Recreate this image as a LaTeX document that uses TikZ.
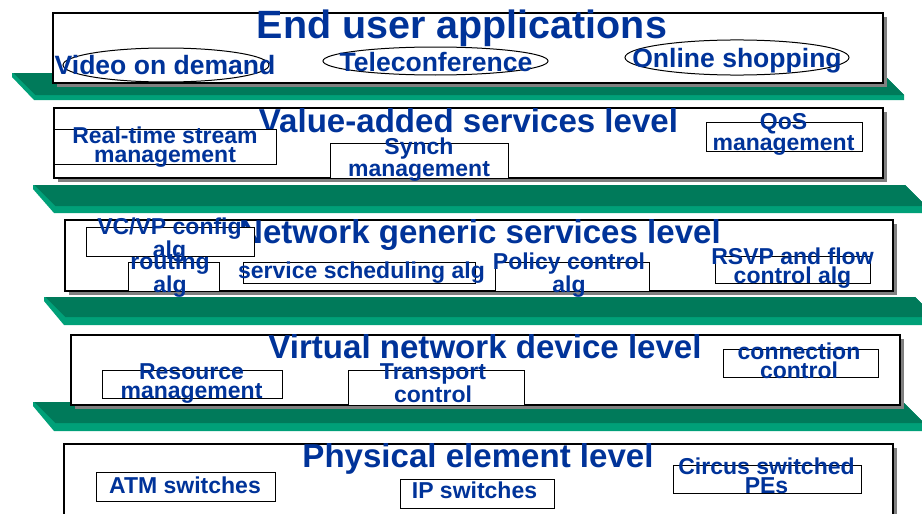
\documentclass[tikz,border=0pt]{standalone}
\usepackage{fontspec}
\setmainfont{Liberation Sans}
\usepackage{xcolor}
\definecolor{slidenavy}{HTML}{003399}
\definecolor{slabdark}{HTML}{007A5A}
\definecolor{slablight}{HTML}{00A078}
\definecolor{shadowgray}{HTML}{808080}
\usetikzlibrary{shapes.geometric, positioning, fit, shadows}
\tikzset{
  levelbox/.style={rectangle, draw=black, line width=0.9pt, fill=white, inner sep=0pt,
                   drop shadow={shadow xshift=3pt, shadow yshift=-3pt, opacity=1, fill=shadowgray}},
  subbox/.style  ={rectangle, draw=black, line width=0.75pt, fill=white, inner sep=0pt},
  appell/.style  ={ellipse, draw=black, line width=0.75pt, inner sep=0pt},
  ltitle/.style  ={text=slidenavy, anchor=base, inner sep=0pt, font=\bfseries\fontsize{24.8}{26}\selectfont},
  applbl/.style  ={text=slidenavy, anchor=base, inner sep=0pt, font=\bfseries\fontsize{19.9}{21}\selectfont},
  sublbl/.style  ={text=slidenavy, anchor=base, inner sep=0pt, align=center, font=\bfseries\fontsize{17.25}{14.25}\selectfont},
}

\begin{document}
\begin{tikzpicture}[x=0.75pt, y=-0.75pt]
  \useasboundingbox (0,0) rectangle (922,514);
  \clip (0,0) rectangle (922,514);

  % green shelves under each level: top y / left x / right x / depth / front strip
  \foreach \ty/\lx/\rx/\dp/\st in {73/12/882/22/5, 185/33/905/21/7, 297/44/915/20/8, 402/33/903/21/8} {
    \fill[slablight] (\lx,\ty) -- (\rx,\ty) -- (\rx+\dp,\ty+\dp) -- (\rx+\dp,\ty+\dp+\st)
                     -- (\lx+\dp,\ty+\dp+\st) -- (\lx,\ty+4) -- cycle;
    \fill[slabdark] (\lx+1.5,\ty) -- (\rx,\ty) -- (\rx+\dp,\ty+\dp) -- (\lx+\dp+1.5,\ty+\dp) -- cycle;
  }

  % level frames
  \node[levelbox, fit={(53,13) (883,83)}] (lvApp) {};
  \node[levelbox, fit={(54,108) (883,178)}] (lvVas) {};
  \node[levelbox, fit={(65,220) (893,291)}] (lvNgs) {};
  \node[levelbox, fit={(71,335) (900,405)}] (lvVnd) {};
  \node[levelbox, fit={(64,444) (893,530)}] (lvPel) {};

  % level titles
  \node[ltitle, font=\bfseries\fontsize{29.6}{31}\selectfont] (tApp) at (462,38) {End user applications};
  \node[ltitle] (tVas) at (468.5,132) {Value-added services level};
  \node[ltitle] (tNgs) at (480,243) {Network generic services level};
  \node[ltitle] (tVnd) at (485,358) {Virtual network device level};
  \node[ltitle] (tPel) at (478,467) {Physical element level};

  % applications
  \node[appell, minimum width=154.5pt, minimum height=25.5pt] (vodE) at (166,65) {};
  \node[appell, minimum width=168.8pt, minimum height=21pt] (tcfE) at (435.5,61) {};
  \node[appell, minimum width=168pt, minimum height=26.3pt] (shpE) at (737,57.5) {};
  \node[applbl] (vod) at (165,74) {Video on demand};
  \node[applbl] (tcf) at (436,71.5) {Teleconference};
  \node[applbl] (shp) at (737,67) {Online shopping};

  % value-added services (two-line labels sit on their last baseline)
  \node[subbox, fit={(54,129) (276,164)}] (rtsB) {};
  \node[subbox, fit={(330,143) (508,178)}] (synB) {};
  \node[subbox, fit={(706,122) (862,151)}] (qosB) {};
  \node[sublbl] (rts) at (165,162) {Real-time stream\\management};
  \node[sublbl] (syn) at (419,176) {Synch\\management};
  \node[sublbl] (qos) at (783.5,150) {QoS\\management};

  % network generic services
  \node[subbox, fit={(86,227) (254,256)}] (vcvB) {};
  \node[subbox, fit={(128,262) (219,291)}] (rtgB) {};
  \node[subbox, fit={(243,262) (475,283)}] (schB) {};
  \node[subbox, fit={(495,262) (649,291)}] (polB) {};
  \node[subbox, fit={(715,256) (870,283)}] (rsvB) {};
  \node[sublbl] (vcv) at (169.5,257) {VC/VP config\\alg};
  \node[sublbl] (rtg) at (170,292) {routing\\alg};
  \node[sublbl] (sch) at (361.5,278) {service scheduling alg};
  \node[sublbl] (pol) at (569,292) {Policy control\\alg};
  \node[sublbl] (rsv) at (792.5,283) {RSVP and flow\\control alg};

  % virtual network device
  \node[subbox, fit={(102,370) (282,398)}] (resB) {};
  \node[subbox, fit={(348,370) (524,405)}] (trnB) {};
  \node[subbox, fit={(723,349) (878,377)}] (conB) {};
  \node[sublbl] (res) at (191.5,398) {Resource\\management};
  \node[sublbl] (trn) at (433,402.5) {Transport\\control};
  \node[sublbl] (con) at (799,378) {connection\\control};

  % physical elements
  \node[subbox, fit={(96,472) (275,501)}] (atmB) {};
  \node[subbox, fit={(400,479) (554,508)}] (ipsB) {};
  \node[subbox, fit={(673,465) (861,493)}] (cirB) {};
  \node[sublbl] (atm) at (185,493) {ATM switches};
  \node[sublbl] (ips) at (474.5,498) {IP switches};
  \node[sublbl] (cir) at (766.5,493) {Circus switched\\PEs};
\end{tikzpicture}
\end{document}
